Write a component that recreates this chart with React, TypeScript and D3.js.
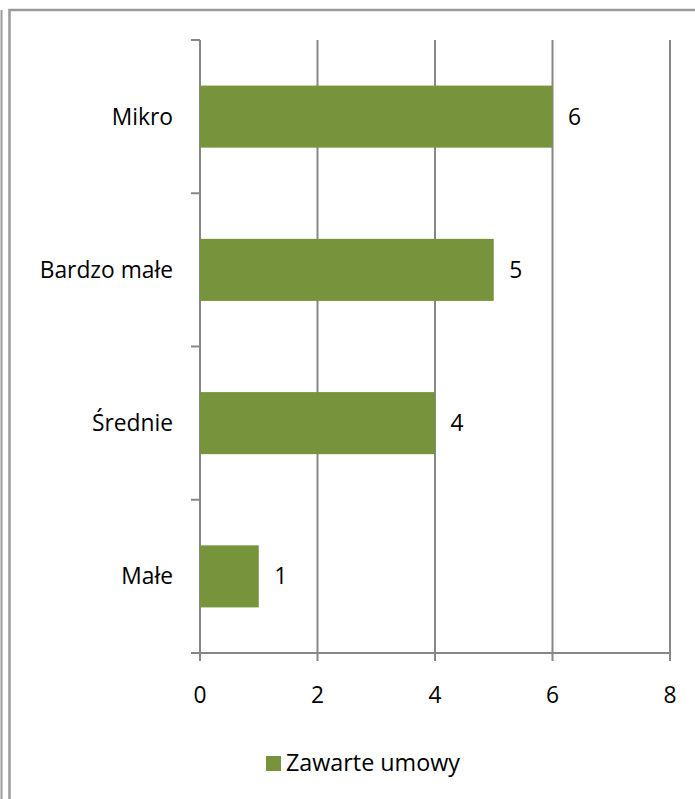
import React from "react";
import * as d3 from "d3";

const categories = ["Mikro", "Bardzo małe", "Średnie", "Małe"];
const values = [6, 5, 4, 1];
const xTicks = [0, 2, 4, 6, 8];
const seriesName = "Zawarte umowy";

const W = 695;
const H = 799;
const FONT = "'Open Sans', 'Liberation Sans', sans-serif";
const FS = 22.8;

export default function App() {
  const x = d3.scaleLinear().domain([0, 8]).range([200, 670]);
  const y = d3.scaleBand<string>().domain(categories).range([40, 653]).paddingInner(0).paddingOuter(0);
  const step = y.step();
  const barH = step * 0.405;
  const boundaries = d3.range(categories.length + 1).map((i) => 40 + i * step);
  const color = "#77933C";
  const grid = "#878787";

  return (
    <svg width={W} height={H} style={{ position: "absolute", left: 0, top: 0, background: "#fff" }}>
      {/* outer frame lines */}
      <line x1={1.5} y1={10} x2={1.5} y2={H} stroke="#9a9a9a" strokeWidth={2} />
      <path d={`M9.5,${H} V10 H${W}`} fill="none" stroke="#9a9a9a" strokeWidth={2.5} />

      {/* vertical gridlines */}
      {xTicks.map((t) => (
        <line key={"g" + t} x1={x(t)} x2={x(t)} y1={40} y2={661} stroke={grid} strokeWidth={2} />
      ))}
      {/* x axis line */}
      <line x1={191} x2={671} y1={653} y2={653} stroke={grid} strokeWidth={2} />
      {/* y axis ticks */}
      {boundaries.map((b, i) => (
        <line key={"yt" + i} x1={191} x2={200} y1={b} y2={b} stroke={grid} strokeWidth={2} />
      ))}

      {/* bars */}
      {categories.map((c, i) => {
        const cy = (y(c) as number) + step / 2;
        return (
          <g key={c}>
            <rect x={x(0)} y={cy - barH / 2} width={x(values[i]) - x(0)} height={barH} fill={color} />
            <text x={x(values[i]) + 22} y={cy} dy="0.35em" textAnchor="middle" fontFamily={FONT} fontSize={FS} fill="#000">
              {values[i]}
            </text>
            <text x={173} y={cy} dy="0.35em" textAnchor="end" fontFamily={FONT} fontSize={FS} fill="#000">
              {c}
            </text>
          </g>
        );
      })}

      {/* x tick labels */}
      {xTicks.map((t) => (
        <text key={"xl" + t} x={x(t)} y={703} textAnchor="middle" fontFamily={FONT} fontSize={FS} fill="#000">
          {t}
        </text>
      ))}

      {/* legend */}
      <rect x={266} y={756} width={15} height={15} fill={color} />
      <text x={286} y={771} fontFamily={FONT} fontSize={FS} fill="#000" textLength={174} lengthAdjust="spacingAndGlyphs">
        {seriesName}
      </text>
    </svg>
  );
}
